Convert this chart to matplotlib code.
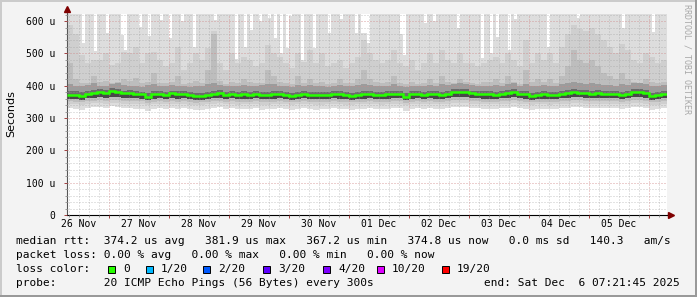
import matplotlib
matplotlib.use('Agg')
import matplotlib.pyplot as plt
import matplotlib.dates as mdates
from matplotlib.patches import Rectangle
from matplotlib.lines import Line2D
import numpy as np
import pandas as pd

# Time window (10 days ending at the "end:" stamp)
end_time = pd.Timestamp('2025-12-06 07:21:45')
start_time = end_time - pd.Timedelta(days=10)
n_bins = 100

# Highest ping per half-bin (200 values), 640 = beyond the top of the graph
ping_max = [640, 640, 640, 640, 640, 532, 640, 640, 640, 507, 640, 640, 640, 563, 640, 640, 640, 640, 557, 510,
            640, 640, 640, 640, 582, 640, 640, 554, 640, 640, 640, 604, 640, 640, 547, 640, 640, 640, 600, 640,
            640, 640, 520, 640, 640, 640, 640, 640, 640, 604, 640, 640, 640, 640, 640, 640, 482, 640, 640, 520,
            640, 572, 640, 640, 600, 640, 640, 610, 640, 547, 640, 501, 640, 516, 615, 640, 640, 640, 479, 640,
            640, 640, 516, 640, 640, 640, 640, 563, 640, 640, 640, 606, 640, 640, 640, 640, 563, 640, 563, 563,
            532, 640, 640, 640, 640, 640, 640, 640, 640, 640, 640, 560, 495, 640, 640, 640, 640, 640, 640, 594,
            640, 640, 600, 640, 640, 640, 640, 640, 640, 640, 578, 640, 640, 640, 640, 640, 640, 640, 486, 640,
            640, 501, 640, 550, 640, 640, 640, 510, 640, 606, 640, 640, 640, 640, 640, 640, 640, 640, 640, 640,
            520, 640, 640, 640, 640, 640, 640, 640, 640, 640, 610, 640, 640, 640, 640, 640, 640, 640, 640, 640,
            640, 640, 640, 640, 640, 578, 640, 640, 640, 640, 640, 640, 640, 640, 640, 566, 640, 640, 640, 640]

# Remaining smoke layers in microseconds, one value per bin (100 values)
ping_p90 = [588, 560, 495, 470, 480, 480, 500, 465, 470, 505,
            500, 520, 470, 500, 504, 480, 460, 470, 520, 450,
            470, 500, 480, 516, 570, 470, 450, 500, 470, 490,
            480, 460, 470, 526, 500, 490, 470, 455, 500, 475,
            510, 470, 500, 460, 470, 480, 455, 470, 490, 541,
            500, 480, 470, 480, 510, 470, 460, 480, 450, 470,
            500, 470, 510, 480, 470, 500, 470, 470, 460, 470,
            480, 490, 470, 500, 480, 460, 540, 470, 500, 480,
            500, 470, 520, 560, 588, 575, 570, 580, 560, 540,
            520, 500, 530, 510, 480, 470, 500, 490, 470, 480]
ping_p75 = [470, 420, 410, 408, 430, 412, 415, 410, 412, 420,
            415, 425, 410, 412, 440, 410, 408, 412, 430, 405,
            410, 415, 410, 450, 560, 415, 405, 412, 410, 420,
            412, 410, 410, 450, 430, 412, 410, 405, 430, 410,
            420, 410, 412, 405, 410, 420, 408, 410, 420, 450,
            420, 412, 410, 412, 430, 410, 405, 412, 405, 410,
            420, 410, 430, 412, 410, 420, 412, 410, 405, 412,
            412, 420, 410, 430, 412, 405, 450, 412, 420, 412,
            420, 410, 430, 460, 510, 480, 470, 480, 460, 440,
            430, 420, 440, 420, 412, 410, 420, 412, 410, 412]
ping_p65 = [405, 400, 398, 402, 408, 400, 398, 404, 410, 402,
            400, 398, 396, 402, 404, 400, 398, 402, 400, 398,
            396, 398, 400, 404, 410, 402, 398, 400, 398, 402,
            400, 398, 402, 406, 404, 400, 398, 396, 402, 400,
            402, 398, 400, 396, 400, 402, 398, 400, 402, 406,
            402, 400, 398, 400, 404, 400, 396, 400, 398, 400,
            402, 400, 404, 402, 406, 408, 404, 402, 398, 400,
            400, 402, 400, 404, 408, 400, 404, 398, 400, 402,
            400, 398, 404, 408, 412, 410, 406, 408, 404, 402,
            402, 400, 404, 402, 408, 410, 404, 400, 398, 402]
ping_p55 = [384, 383, 380, 384, 387, 390, 388, 392, 389, 385,
            386, 384, 382, 378, 383, 384, 382, 385, 383, 384,
            381, 378, 379, 382, 385, 386, 382, 384, 381, 383,
            382, 384, 380, 381, 383, 384, 382, 379, 382, 385,
            382, 380, 381, 382, 384, 383, 381, 379, 382, 383,
            384, 382, 381, 383, 385, 384, 377, 383, 384, 382,
            384, 383, 382, 384, 389, 390, 389, 385, 384, 383,
            383, 382, 384, 386, 390, 385, 383, 379, 382, 383,
            380, 382, 384, 386, 389, 388, 386, 385, 386, 385,
            385, 384, 382, 384, 389, 390, 386, 379, 381, 385]
median_rtt = [372, 371, 368, 373, 376, 380, 378, 384, 380, 376,
              377, 375, 374, 366, 373, 374, 372, 376, 373, 375,
              371, 367, 368, 372, 375, 377, 372, 374, 371, 373,
              372, 374, 370, 371, 373, 374, 372, 369, 372, 375,
              372, 370, 371, 372, 374, 373, 371, 369, 372, 373,
              374, 372, 371, 373, 375, 374, 366, 373, 374, 372,
              374, 373, 372, 374, 380, 381, 380, 376, 374, 373,
              373, 372, 374, 376, 381, 375, 373, 368, 372, 373,
              370, 372, 374, 376, 380, 379, 376, 375, 376, 375,
              375, 374, 372, 374, 380, 381, 376, 369, 371, 375]
ping_p45 = [360, 359, 357, 361, 362, 364, 363, 366, 364, 362,
            362, 361, 360, 356, 360, 361, 360, 362, 360, 361,
            359, 356, 357, 360, 362, 363, 360, 361, 359, 360,
            360, 361, 358, 359, 360, 361, 360, 357, 360, 362,
            360, 358, 359, 360, 361, 360, 359, 357, 360, 360,
            361, 360, 359, 360, 362, 361, 356, 360, 361, 360,
            361, 360, 360, 361, 364, 365, 364, 362, 361, 360,
            360, 360, 361, 362, 365, 362, 360, 357, 360, 360,
            358, 360, 361, 362, 364, 364, 362, 362, 362, 362,
            362, 361, 360, 361, 364, 365, 362, 357, 359, 362]
ping_p35 = [352, 351, 349, 352, 354, 355, 354, 356, 355, 353,
            353, 352, 352, 348, 351, 352, 351, 353, 351, 352,
            350, 348, 349, 351, 353, 354, 351, 352, 350, 351,
            351, 352, 350, 350, 351, 352, 351, 349, 351, 353,
            351, 350, 350, 351, 352, 351, 350, 349, 351, 351,
            352, 351, 350, 351, 353, 352, 348, 351, 352, 351,
            352, 351, 351, 352, 355, 356, 355, 353, 352, 351,
            351, 351, 352, 353, 356, 353, 351, 349, 351, 351,
            350, 351, 352, 353, 355, 355, 353, 353, 353, 353,
            353, 352, 351, 352, 355, 356, 353, 349, 350, 353]
ping_p25 = [344, 342, 340, 344, 346, 347, 345, 348, 346, 344,
            345, 343, 343, 339, 343, 344, 342, 345, 343, 344,
            341, 339, 340, 342, 345, 346, 342, 344, 341, 343,
            342, 344, 341, 341, 343, 344, 342, 340, 342, 345,
            342, 341, 341, 342, 344, 343, 341, 340, 342, 342,
            344, 342, 341, 343, 345, 344, 339, 342, 344, 342,
            344, 343, 342, 344, 347, 348, 346, 344, 343, 342,
            342, 342, 344, 345, 348, 344, 342, 340, 342, 342,
            341, 342, 344, 345, 347, 347, 345, 344, 345, 344,
            344, 343, 342, 343, 347, 348, 345, 340, 341, 344]
ping_min = [330, 328, 325, 331, 333, 335, 332, 336, 333, 330,
            332, 329, 328, 323, 329, 331, 328, 332, 329, 331,
            327, 324, 325, 328, 331, 333, 328, 330, 327, 329,
            328, 330, 326, 327, 329, 331, 328, 325, 328, 332,
            328, 326, 327, 328, 330, 329, 327, 325, 328, 329,
            330, 328, 327, 329, 332, 330, 323, 329, 330, 328,
            330, 329, 328, 330, 334, 335, 333, 331, 330, 328,
            329, 328, 330, 332, 335, 331, 329, 325, 328, 329,
            327, 328, 330, 332, 334, 334, 332, 331, 332, 331,
            331, 330, 328, 330, 334, 335, 332, 326, 327, 331]

loss_labels = ['0', '1/20', '2/20', '3/20', '4/20', '10/20', '19/20']
loss_colors = ['#26ff00', '#00b8ff', '#0059ff', '#5e00ff', '#7e00ff', '#dd00ff', '#ff0000']

stats_line = 'median rtt:  374.2 us avg   381.9 us max   367.2 us min   374.8 us now   0.0 ms sd   140.3   am/s'
loss_line = 'packet loss: 0.00 % avg   0.00 % max   0.00 % min   0.00 % now'
probe_line = 'probe:       20 ICMP Echo Pings (56 Bytes) every 300s'
end_line = 'end: Sat Dec  6 07:21:45 2025'

W, H = 697, 297
MONO = 'DejaVu Sans Mono'

def fx(x):
    return x / W

def fy(y):
    return 1 - y / H

fig = plt.figure(figsize=(W / 100, H / 100), dpi=100, facecolor='#f3f3f3')
ax = fig.add_axes([fx(67), fy(215), 600 / W, 201 / H])
ax.set_facecolor('white')

edges = mdates.date2num(pd.date_range(start_time, end_time, periods=n_bins + 1))
fine_edges = mdates.date2num(pd.date_range(start_time, end_time, periods=2 * n_bins + 1))
left = edges[:-1]
width = edges[1] - edges[0]
med = np.array(median_rtt, dtype=float)

# outer band (min .. max), the upper half at double resolution
ax.bar(fine_edges[:-1], np.array(ping_max) - np.repeat(med, 2), bottom=np.repeat(med, 2),
       width=width / 2, align='edge', color='#dddddd', linewidth=0, zorder=1)
ax.bar(left, med - np.array(ping_min), bottom=ping_min, width=width, align='edge',
       color='#dddddd', linewidth=0, zorder=1)

# inner bands, darker towards the median
bands = [
    (ping_p25, ping_p90, '#cfcfcf'),
    (ping_p35, ping_p75, '#bdbdbd'),
    (ping_p45, ping_p65, '#9c9c9c'),
    (median_rtt, ping_p55, '#6c6c6c'),
    (ping_p45, median_rtt, '#484848'),
]
for lo, hi, col in bands:
    lo = np.array(lo, dtype=float)
    hi = np.array(hi, dtype=float)
    ax.bar(left, hi - lo, bottom=lo, width=width, align='edge', color=col, linewidth=0, zorder=1)

ax.stairs(median_rtt, edges, baseline=None, color='#26ff00', linewidth=1.8, zorder=3)

ax.set_xlim(edges[0], edges[-1])
ax.set_ylim(0, 622)

# grid
ax.set_axisbelow(False)
ax.xaxis.set_major_locator(mdates.DayLocator())
ax.xaxis.set_minor_locator(mdates.HourLocator(byhour=range(0, 24, 4)))
ax.xaxis.set_major_formatter(plt.NullFormatter())
ax.yaxis.set_major_locator(plt.MultipleLocator(100))
ax.yaxis.set_minor_locator(plt.MultipleLocator(20))
ax.yaxis.set_major_formatter(plt.FuncFormatter(lambda v, p: '0' if v == 0 else '%d u' % v))

dots = (0, (1, 2))
ax.grid(which='minor', color='#9a9a9a', alpha=0.55, linestyle=dots, linewidth=0.72)
ax.grid(which='major', color='#d08888', alpha=0.8, linestyle=dots, linewidth=0.72)

ax.tick_params(axis='both', which='major', length=2.5, width=0.7, color='#a04040', direction='out')
ax.tick_params(axis='both', which='minor', length=1.5, width=0.7, color='#999999', direction='out')
ax.tick_params(axis='y', which='major', labelsize=7, pad=6)
for lab in ax.get_yticklabels():
    lab.set_family(MONO)

# day labels centred at noon
for day in pd.date_range(start_time.normalize() + pd.Timedelta(hours=12), end_time, freq='D'):
    ax.text(mdates.date2num(day), -0.045, day.strftime('%d %b'), transform=ax.get_xaxis_transform(),
            ha='center', va='center', family=MONO, fontsize=7)

for side in ['top', 'right']:
    ax.spines[side].set_visible(False)
ax.spines['left'].set_color('#555555')
ax.spines['left'].set_linewidth(0.8)
ax.spines['bottom'].set_color('#000000')
ax.spines['bottom'].set_linewidth(0.8)

# axis extensions and arrows
fig.add_artist(Line2D([fx(67), fx(67)], [fy(14), fy(9)], color='#555555', linewidth=0.8))
fig.add_artist(Line2D([fx(667), fx(670)], [fy(215), fy(215)], color='#000000', linewidth=0.8))
fig.add_artist(Line2D([fx(671)], [fy(215)], marker='>', markersize=4, color='#7f0000', linewidth=0))
fig.add_artist(Line2D([fx(67)], [fy(9)], marker='^', markersize=4, color='#7f0000', linewidth=0))

fig.text(fx(11), fy(114), 'Seconds', rotation=90, ha='center', va='center', fontsize=8)
fig.text(fx(687), fy(4), 'RRDTOOL / TOBI OETIKER', rotation=270, ha='center', va='top',
         family=MONO, fontsize=6, color='#a8a8a8')

# legend block
fig.text(fx(16), fy(240.5), stats_line, family=MONO, fontsize=8, va='center')
fig.text(fx(16), fy(255.3), loss_line, family=MONO, fontsize=8, va='center')
fig.text(fx(16), fy(269), 'loss color:', family=MONO, fontsize=8, va='center')
box_x = [108, 146, 203, 263, 323, 377, 442]
for bx, lab, col in zip(box_x, loss_labels, loss_colors):
    fig.add_artist(Rectangle((fx(bx), fy(272.5)), 7 / W, 7 / H, facecolor=col,
                             edgecolor='black', linewidth=0.7))
    fig.text(fx(bx + 15), fy(269), lab, family=MONO, fontsize=8, va='center')
fig.text(fx(16), fy(283), probe_line, family=MONO, fontsize=8, va='center')
fig.text(fx(680), fy(283), end_line, family=MONO, fontsize=8, va='center', ha='right')

# 3d frame
fig.add_artist(Rectangle((0, fy(2)), 1, 2 / H, facecolor='#cbcbcb', linewidth=0))
fig.add_artist(Rectangle((0, 0), 2 / W, 1, facecolor='#cbcbcb', linewidth=0))
fig.add_artist(Rectangle((0, 0), 1, 2 / H, facecolor='#999999', linewidth=0))
fig.add_artist(Rectangle((fx(695), 0), 2 / W, 1, facecolor='#999999', linewidth=0))

fig.savefig('out.png', dpi=100, facecolor=fig.get_facecolor())
